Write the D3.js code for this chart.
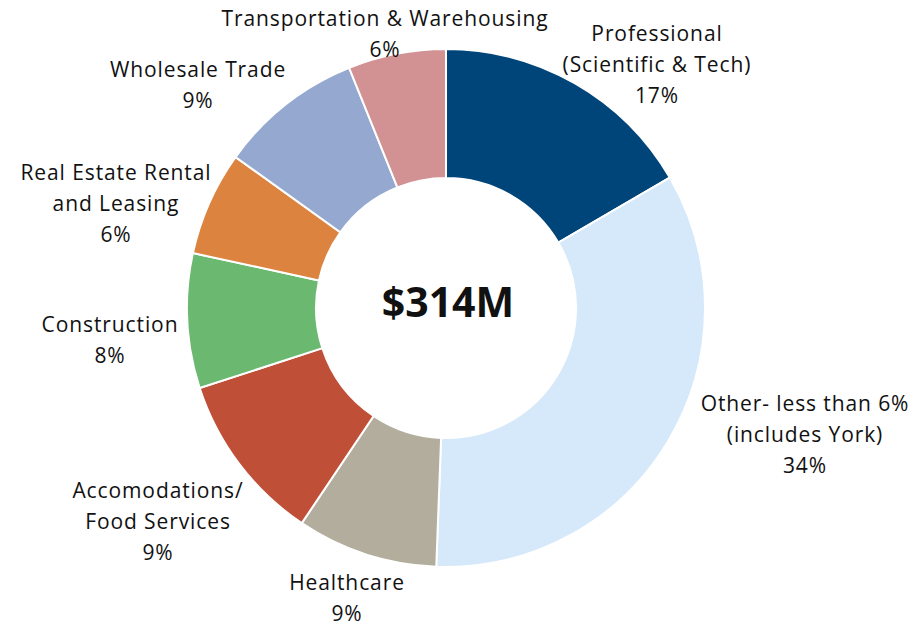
<!DOCTYPE html>
<html>
<head>
<meta charset="utf-8">
<script src="https://cdn.jsdelivr.net/npm/d3@7"></script>
<style>
  body { margin: 0; background: #fff; }
  svg text { font-family: "Open Sans", "DejaVu Sans", sans-serif; fill: #111; }
</style>
</head>
<body>
<div id="chart"></div>
<script>
// slices, clockwise from 12 o'clock
var categories = [
  ["Professional", "(Scientific & Tech)"],
  ["Other- less than 6%", "(includes York)"],
  ["Healthcare"],
  ["Accomodations/", "Food Services"],
  ["Construction"],
  ["Real Estate Rental", "and Leasing"],
  ["Wholesale Trade"],
  ["Transportation & Warehousing"]
];
// slice sizes as drawn (share of total)
var shares = [16.6, 34.0, 8.8, 10.6, 8.4, 6.5, 9.0, 6.1];
// printed percentage labels
var pctLabels = ["17%", "34%", "9%", "9%", "8%", "6%", "9%", "6%"];
var totalLabel = "$314M";

var colors = ["#00457a", "#d5e9fb", "#b2ad9c", "#bf4f36", "#6bb970", "#dc843f", "#95a9d0", "#d29192"];

// label anchor: centre x and baseline of the first line
var labelPos = [
  [657, 41], [805, 411], [347, 590], [158, 498],
  [110, 332], [116, 180], [198, 77], [385, 26]
];

const width = 916;
const height = 627;
const cx = 446, cy = 308;
const outerR = 259, innerR = 130;
const lineH = 31;

var svg = d3.select("#chart").append("svg")
  .attr("width", width)
  .attr("height", height);

var pie = d3.pie().sort(null).value(d => d)(shares);
var arc = d3.arc().innerRadius(innerR).outerRadius(outerR);

var g = svg.append("g").attr("transform", "translate(" + cx + "," + cy + ")");
g.selectAll("path")
  .data(pie)
  .enter()
  .append("path")
  .attr("d", arc)
  .attr("fill", (d, i) => colors[i])
  .attr("stroke", "#fff")
  .attr("stroke-width", 2);

g.append("text")
  .attr("x", 2)
  .attr("y", 9)
  .attr("text-anchor", "middle")
  .attr("font-size", 41)
  .attr("font-weight", "bold")
  .text(totalLabel);

var labels = svg.selectAll("text.lbl")
  .data(categories)
  .enter()
  .append("text")
  .attr("class", "lbl")
  .attr("text-anchor", "middle")
  .attr("font-size", 21)
  .attr("letter-spacing", 0.9);

labels.each(function (lines, i) {
  var t = d3.select(this);
  lines.concat([pctLabels[i]]).forEach(function (s, k) {
    t.append("tspan")
      .attr("x", labelPos[i][0])
      .attr("y", labelPos[i][1] + k * lineH)
      .text(s);
  });
});
</script>
</body>
</html>
